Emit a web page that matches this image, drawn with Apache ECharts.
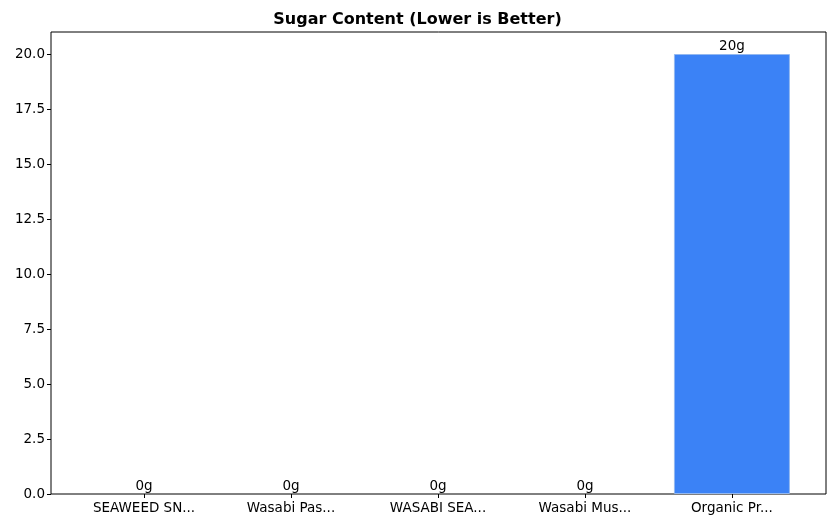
<!DOCTYPE html>
<html><head><meta charset="utf-8">
<script src="https://cdn.jsdelivr.net/npm/echarts@6/dist/echarts.min.js"></script>
<style>html,body{margin:0;padding:0;background:#fff}#c{width:835px;height:528px}</style>
</head><body><div id="c"></div>
<script>
const categories = ["SEAWEED SN...", "Wasabi Pas...", "WASABI SEA...", "Wasabi Mus...", "Organic Pr..."];
const sugar = [0, 0, 0, 0, 20];
const yTicks = [0, 2.5, 5, 7.5, 10, 12.5, 15, 17.5, 20];
const pos = categories.map((c, i) => i);
const chart = echarts.init(document.getElementById('c'));
const txt = {color: '#000', fontFamily: 'DejaVu Sans', fontSize: 13.5};
chart.setOption({
  animation: false,
  title: {text: 'Sugar Content (Lower is Better)', left: 'center', top: 7,
    textStyle: {fontFamily: 'DejaVu Sans', fontSize: 16, fontWeight: 'bold', color: '#000'}},
  grid: {left: 51, right: 9, top: 32, bottom: 34, show: true, borderColor: '#000', borderWidth: 1},
  xAxis: {type: 'value', min: -0.633, max: 4.64,
    axisLine: {show: false}, splitLine: {show: false},
    axisTick: {show: true, customValues: pos, length: 4, lineStyle: {color: '#000'}},
    axisLabel: Object.assign({customValues: pos, formatter: v => categories[Math.round(v)], margin: 7}, txt)},
  yAxis: {type: 'value', min: 0, max: 21, splitLine: {show: false},
    axisLine: {show: false, onZero: false},
    axisTick: {show: true, customValues: yTicks, length: 4, lineStyle: {color: '#000'}},
    axisLabel: Object.assign({customValues: yTicks, formatter: v => v.toFixed(1), margin: 6}, txt)},
  series: [{type: 'bar', barWidth: 116,
    data: sugar.map((v, i) => ({value: [i, v], itemStyle: {borderWidth: v > 0 ? 1 : 0}})),
    itemStyle: {color: '#3b82f6', borderColor: '#93b8f0'},
    label: {show: true, position: 'top', distance: 1, formatter: p => p.value[1] + 'g', ...txt}}]
});
</script></body></html>
